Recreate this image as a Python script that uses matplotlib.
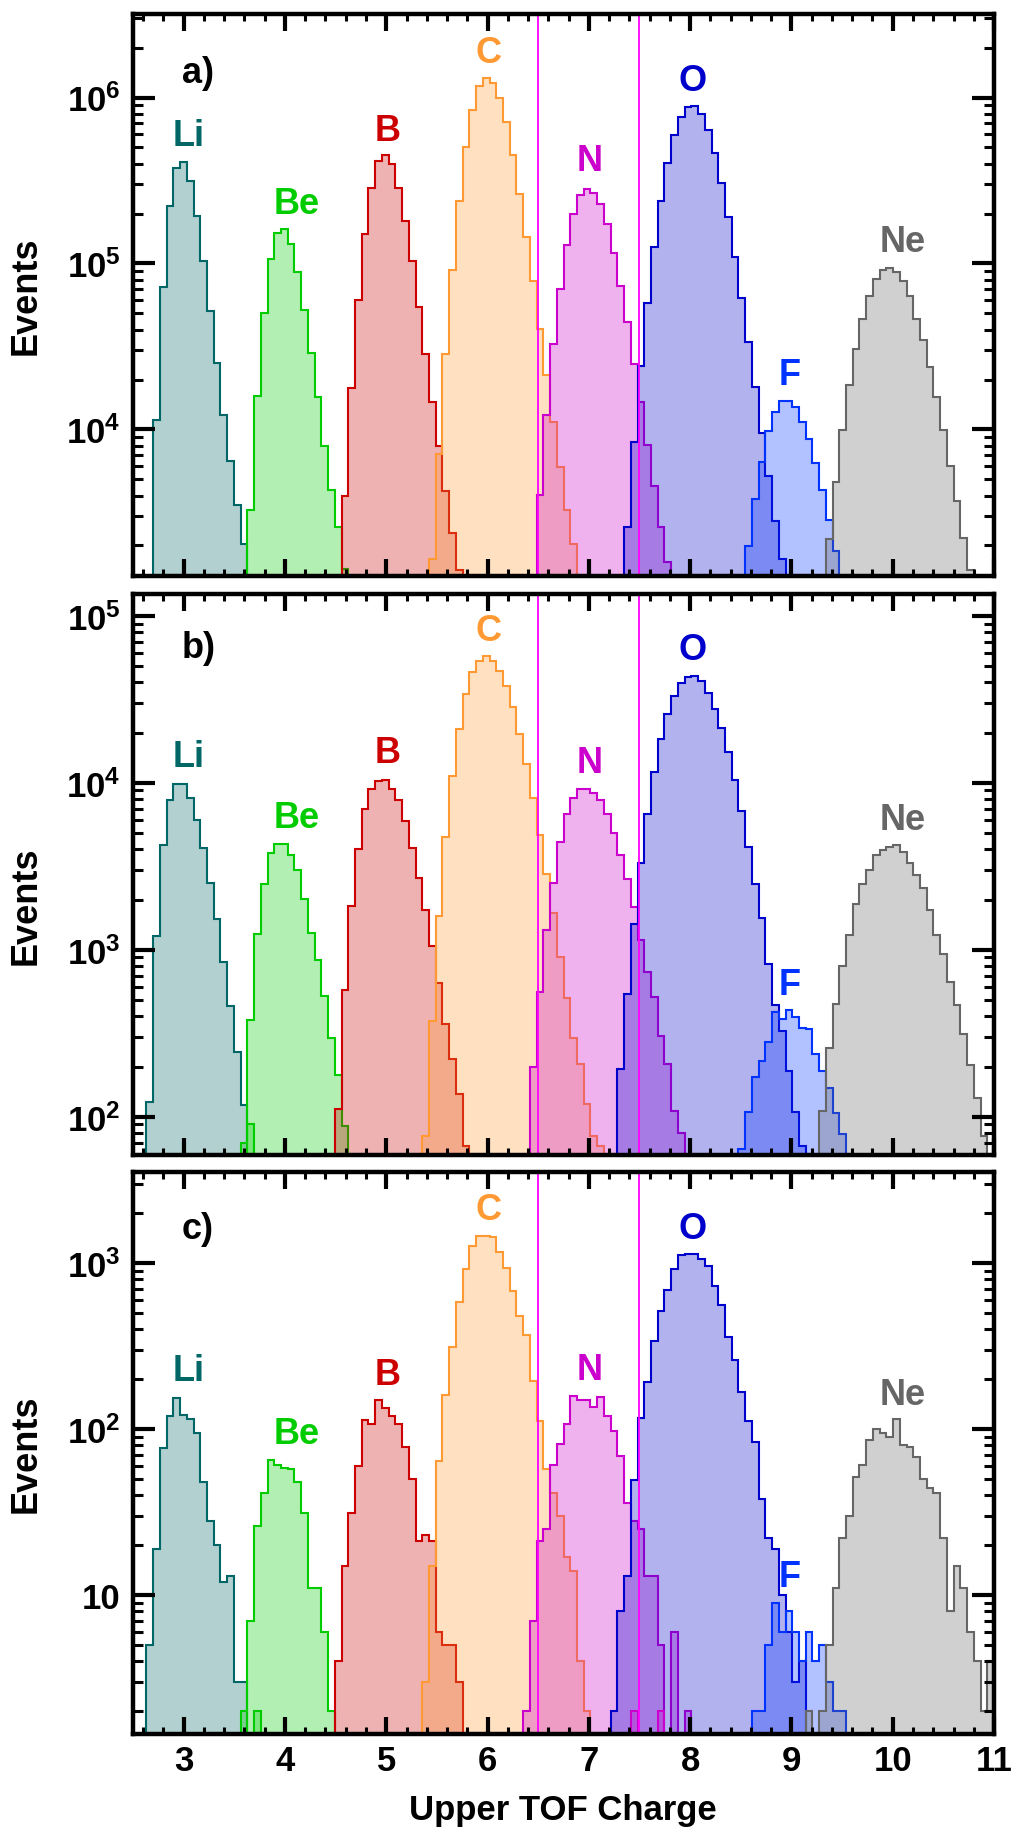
import matplotlib
matplotlib.use("Agg")
import matplotlib.pyplot as plt
import numpy as np
from matplotlib.ticker import FixedLocator, LogLocator, FuncFormatter, MultipleLocator, NullFormatter

plt.rcParams['font.family'] = ['Liberation Sans', 'DejaVu Sans']
plt.rcParams['font.weight'] = 'bold'
plt.rcParams['mathtext.fontset'] = 'custom'
plt.rcParams['mathtext.rm'] = 'Liberation Sans:bold'
plt.rcParams['mathtext.it'] = 'Liberation Sans:bold'
plt.rcParams['mathtext.bf'] = 'Liberation Sans:bold'

# 128 bins of upper TOF charge from 2.5 to 11
edges = np.linspace(2.5, 11, 129)

species = ['Li', 'Be', 'B', 'C', 'N', 'O', 'F', 'Ne']

# ---- panel a): first bin index of each species, then counts per bin
a_first = [3, 17, 31, 44, 60, 73, 91, 103]
a_li = [11400, 72600, 223000, 375000, 406000, 316000, 192000, 104000, 51600, 25200,
        12200, 6480, 3490, 2040]
a_be = [3260, 15800, 50400, 107000, 153000, 161000, 131000, 88500, 52800, 28800,
        15700, 7900, 4300, 2600, 1450]
a_b = [3970, 17700, 60400, 151000, 285000, 412000, 450000, 395000, 286000, 181000,
       104000, 54400, 28400, 14600, 7900, 4230, 2380, 1420]
a_c = [1660, 7130, 28400, 91900, 238000, 500000, 842000, 1170000, 1310000, 1230000,
       1000000, 709000, 450000, 261000, 145000, 78500, 40300, 21300, 11100, 5940,
       3260, 2040]
a_n = [4020, 12300, 32700, 70600, 129000, 199000, 258000, 282000, 267000, 229000,
       172000, 115000, 73300, 44300, 24900, 14600, 8110, 4570, 2580, 1600]
a_o = [2580, 8410, 24000, 58000, 126000, 238000, 402000, 594000, 766000, 873000,
       887000, 800000, 639000, 463000, 305000, 191000, 110000, 62000, 33700, 18000,
       9490, 5210, 2790, 1660]
a_f = [1990, 3810, 6410, 9750, 12800, 14800, 14900, 13700, 11100, 8780, 6250, 4340,
       2860, 1840]
a_ne = [2200, 4820, 9890, 18500, 30700, 46100, 63700, 80500, 90800, 94200, 89400,
        78500, 63700, 46600, 34400, 23700, 15600, 9890, 6000, 3720, 2230, 1420]

# ---- panel b)
b_first = [2, 17, 30, 43, 59, 72, 90, 102]
b_li = [122, 1210, 4250, 7920, 9890, 9790, 8090, 6030, 4090, 2510, 1520, 840, 462,
        245, 117]
b_be = [378, 1240, 2480, 3780, 4320, 4320, 3720, 2990, 2010, 1260, 872, 527, 295,
        177, 88]
b_b = [112, 577, 1820, 4040, 6950, 9250, 10300, 10400, 9250, 7880, 5930, 4090, 2680,
       1730, 1050, 635, 359, 221, 137, 67]
b_c = [77, 374, 1600, 4720, 11000, 21000, 34200, 45800, 53600, 57400, 53600, 47000,
       38000, 28400, 19700, 12900, 8150, 4900, 2860, 1660, 904, 514, 295, 206, 120,
       77, 67]
b_n = [199, 556, 1310, 2510, 4410, 6480, 8140, 9150, 9240, 8680, 7880, 6480, 4980,
       3720, 2640, 1810, 1150, 737, 520, 306, 206, 108, 80]
b_o = [194, 542, 1420, 3300, 6480, 11600, 18400, 26000, 33000, 39700, 43000, 43400,
       40600, 34600, 27700, 21300, 15200, 10400, 6760, 4140, 2480, 1560, 826, 470,
       328, 188, 107, 67]
b_f = [64, 107, 174, 215, 280, 427, 388, 434, 394, 342, 337, 239, 188, 149, 105, 79]
b_ne = [108, 259, 475, 805, 1230, 1870, 2480, 3010, 3680, 3970, 4140, 4250, 3880,
        3320, 2790, 2340, 1730, 1230, 944, 642, 470, 315, 204, 130, 77]
b_be_extra_first = 16
b_be_extra = [70, 91]

# ---- panel c)
c_first = [2, 17, 30, 43, 58, 71, 92, 100]
c_li = [5, 19, 77, 120, 154, 122, 115, 95, 48, 28, 20, 12, 13, 3, 3]
c_be = [7, 26, 41, 65, 61, 58, 57, 48, 31, 11, 11, 6, 2]
c_b = [4, 15, 31, 60, 113, 107, 149, 134, 120, 107, 78, 50, 21, 23, 21, 6, 5, 5, 3]
c_c = [3, 15, 64, 160, 311, 581, 915, 1270, 1460, 1460, 1440, 1170, 929, 673, 476,
       366, 195, 112, 57, 41, 30, 17, 14, 4, 2]
c_n = [2, 7, 21, 25, 61, 81, 107, 158, 150, 150, 136, 156, 119, 97, 69, 36, 28, 25,
       13, 13, 5, 0, 6, 0, 2]
c_o = [2, 8, 13, 49, 116, 191, 337, 513, 690, 915, 1110, 1130, 1130, 1060, 952, 725,
       558, 357, 259, 166, 112, 83, 38, 22, 19, 10, 6, 3, 4]
c_f = [2, 2, 5, 9, 6, 8, 6, 4, 6, 4, 5, 3, 2, 2]
c_ne = [2, 0, 2, 5, 11, 22, 30, 51, 61, 86, 100, 94, 90, 115, 80, 78, 68, 50, 44, 41,
        22, 8, 15, 11, 6, 4, 2, 4]
c_be_extra_first = 16
c_be_extra = [2, 0, 2]
c_n_extra_first = 74
c_n_extra = [2, 0, 0, 0, 2]

# selection cuts for nitrogen
cuts = [6.5, 7.5]

colors = ['#006666', '#00cc00', '#cc0000', '#ff9933', '#cc00cc', '#0000cc', '#0033ff', '#666666']

panels = [
    dict(tag='a)', first=a_first, data=[a_li, a_be, a_b, a_c, a_n, a_o, a_f, a_ne],
         extra=[], ylim=(10**3.117, 10**6.503), decades=[1e4, 1e5, 1e6],
         rect=[0.1312, 0.6852, 0.8491, 0.3066], ylab_y=0.8385,
         pos=[(3.14, 6.15), (3.05, 5.77), (4.115, 5.36), (5.016, 5.80), (6.01, 6.27),
              (7.01, 5.62), (8.02, 6.10), (8.985, 4.33), (10.10, 5.13)]),
    dict(tag='b)', first=b_first, data=[b_li, b_be, b_b, b_c, b_n, b_o, b_f, b_ne],
         extra=[(1, b_be_extra_first, b_be_extra)],
         ylim=(10**1.771, 10**5.131), decades=[1e2, 1e3, 1e4, 1e5],
         rect=[0.1312, 0.3693, 0.8491, 0.3061], ylab_y=0.5057,
         pos=[(3.15, 4.81), (3.05, 4.156), (4.115, 3.79), (5.016, 4.18), (6.01, 4.91),
              (7.01, 4.12), (8.02, 4.80), (8.985, 2.79), (10.10, 3.78)]),
    dict(tag='c)', first=c_first, data=[c_li, c_be, c_b, c_c, c_n, c_o, c_f, c_ne],
         extra=[(1, c_be_extra_first, c_be_extra), (4, c_n_extra_first, c_n_extra)],
         ylim=(10**0.163, 10**3.548), decades=[1e1, 1e2, 1e3],
         rect=[0.1312, 0.0535, 0.8491, 0.3066], ylab_y=0.2068,
         pos=[(3.14, 3.21), (3.05, 2.35), (4.115, 1.97), (5.016, 2.33), (6.01, 3.32),
              (7.01, 2.36), (8.02, 3.21), (8.985, 1.11), (10.10, 2.21)]),
]


def draw_hist(ax, first, counts, color, floor):
    c = np.asarray(counts, float)
    c = np.where(c > 0, c, floor)
    e = edges[first:first + len(c) + 1]
    ax.stairs(c, e, baseline=floor, fill=True, facecolor=color, edgecolor='none', alpha=0.3)
    ax.stairs(c, e, baseline=floor, color=color, lw=1.5)


def ylabel_fmt(v, pos):
    n = int(round(np.log10(v)))
    if n == 1:
        return '10'
    return r'$10^{%d}$' % n


fig = plt.figure(figsize=(10.14, 18.33), dpi=100)

for i, p in enumerate(panels):
    ax = fig.add_axes(p['rect'])
    ax.set_yscale('log')
    floor = p['ylim'][0] * 0.3
    for k in range(len(species)):
        draw_hist(ax, p['first'][k], p['data'][k], colors[k], floor)
    for k, first, vals in p['extra']:
        draw_hist(ax, first, vals, colors[k], floor)
    for x in cuts:
        ax.axvline(x, color='#ff00ff', lw=1.3, zorder=5)

    ax.set_xlim(2.5, 11)
    ax.set_ylim(*p['ylim'])
    ax.xaxis.set_major_locator(MultipleLocator(1))
    ax.xaxis.set_minor_locator(MultipleLocator(0.2))
    ax.yaxis.set_major_locator(FixedLocator(p['decades']))
    ax.yaxis.set_major_formatter(FuncFormatter(ylabel_fmt))
    ax.yaxis.set_minor_locator(LogLocator(base=10, subs=np.arange(2, 10)))
    ax.yaxis.set_minor_formatter(NullFormatter())
    ax.tick_params(which='both', direction='in', top=True, right=True, colors='black')
    ax.tick_params(axis='x', which='major', length=12, width=3, labelsize=25, pad=7)
    ax.tick_params(axis='x', which='minor', length=5, width=2.2)
    ax.tick_params(axis='y', which='major', length=16, width=3, labelsize=25, pad=9)
    ax.tick_params(axis='y', which='minor', length=7, width=2.2)
    if i < 2:
        ax.tick_params(labelbottom=False)
    for s in ax.spines.values():
        s.set_linewidth(3.2)
        s.set_zorder(10)

    tx, ty = p['pos'][0]
    ax.text(tx, 10**ty, p['tag'], color='black', ha='center', va='center',
            fontsize=26, weight='bold')
    for k, name in enumerate(species):
        lx, ly = p['pos'][k + 1]
        ax.text(lx, 10**ly, name, color=colors[k], ha='center', va='center',
                fontsize=26, weight='bold')

    fig.text(0.026, p['ylab_y'], 'Events', rotation=90, ha='center', va='center',
             fontsize=26, weight='bold')

fig.text(0.555, 0.0071, 'Upper TOF Charge', ha='center', va='baseline',
         fontsize=25, weight='bold')

fig.savefig('out.png', dpi=100)
